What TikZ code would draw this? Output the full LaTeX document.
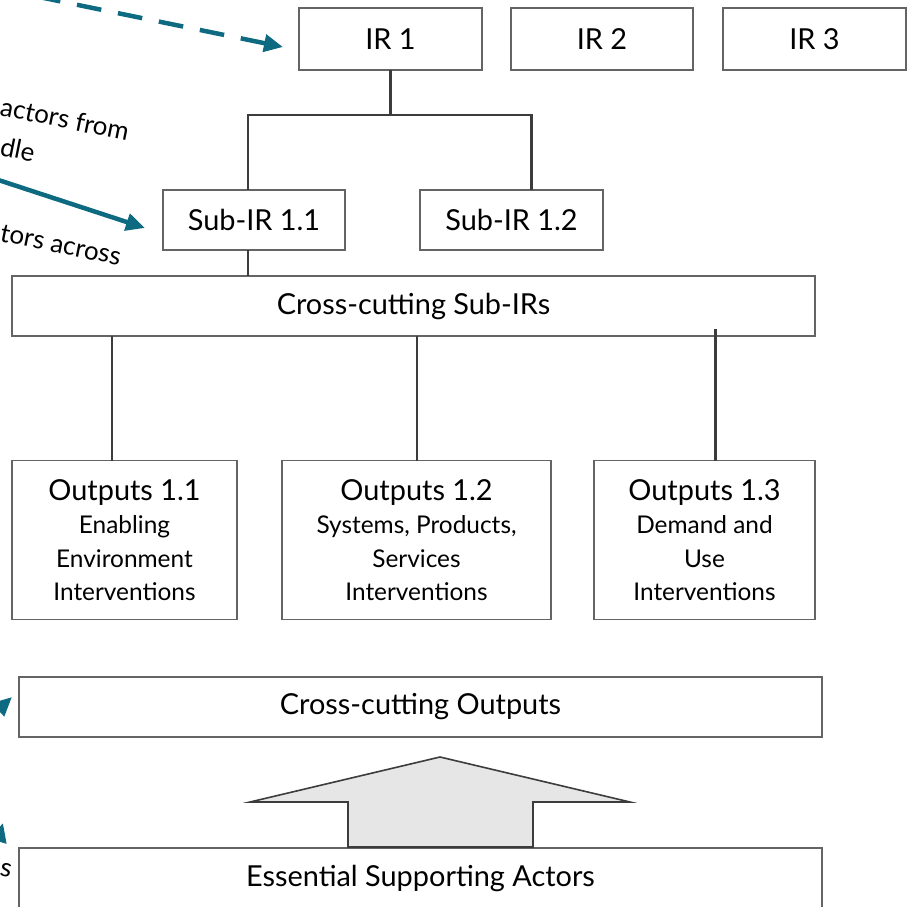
\documentclass[tikz,border=0pt]{standalone}
\usepackage{fontspec}
\setmainfont{Lato}
\usetikzlibrary{arrows.meta}
\definecolor{tealc}{RGB}{14,106,128}
\definecolor{boxline}{RGB}{100,100,100}
\definecolor{conn}{RGB}{60,60,60}
\definecolor{arrfill}{RGB}{230,230,230}
\tikzset{
  box/.style={draw=boxline, line width=1.9bp, rectangle, inner sep=0pt, outer sep=0pt, align=center, font=\fontsize{29}{33}\selectfont},
  outbox/.style={box, font=\fontsize{24.5}{33.5}\selectfont},
  connector/.style={draw=conn, line width=2.2bp},
  tealarrow/.style={draw=tealc, line width=4.5bp, -{Triangle[length=19bp,width=17bp]}},
  sidetext/.style={font=\fontsize{26}{28}\selectfont, rotate=-11.5, anchor=base west, inner sep=0pt}
}
\newcommand{\outtitle}[1]{{\fontsize{29}{33.5}\selectfont #1}}
\begin{document}
\begin{tikzpicture}[x=1bp,y=-1bp]
\useasboundingbox (0,0) rectangle (909,907);
\clip (0,0) rectangle (909,907);

% top level
\node[box, minimum width=183bp, minimum height=62bp] (ir1) at (390.5,39) {IR 1};
\node[box, minimum width=182bp, minimum height=62bp] (ir2) at (602,39) {IR 2};
\node[box, minimum width=183bp, minimum height=62bp] (ir3) at (814.5,39) {IR 3};

% sub IRs
\node[box, minimum width=182bp, minimum height=60bp] (sub1) at (254,220) {Sub-IR 1.1};
\node[box, minimum width=183bp, minimum height=60bp] (sub2) at (511.5,220) {Sub-IR 1.2};

\node[box, minimum width=803bp, minimum height=60bp] (ccsub) at (413.5,306) {Cross-cutting Sub-IRs};

% outputs
\node[outbox, minimum width=225bp, minimum height=159bp] (out1) at (124.5,540) {\outtitle{Outputs 1.1}\\Enabling\\Environment\\Interventions};
\node[outbox, minimum width=269bp, minimum height=159bp] (out2) at (416.5,540) {\outtitle{Outputs 1.2}\\Systems, Products,\\Services\\Interventions};
\node[outbox, minimum width=221bp, minimum height=159bp] (out3) at (704.5,540) {\outtitle{Outputs 1.3}\\Demand and\\Use\\Interventions};

\node[box, minimum width=803bp, minimum height=60bp] (ccout) at (420.5,707) {Cross-cutting Outputs};
\node[box, minimum width=803bp, minimum height=60bp] (esa) at (420.5,878) {Essential Supporting Actors};

% connectors
\coordinate (j) at (390.5,115);
\draw[connector] (ir1.south) -- (j);
\draw[connector] ([xshift=-6bp]sub1.north) |- (j) -| ([xshift=20bp]sub2.north);
\draw[connector] ([xshift=-6bp]sub1.south) -- ([xshift=-6bp]sub1.south |- ccsub.north);
\draw[connector] (out1.north -| 112,0) -- (ccsub.south -| 112,0);
\draw[connector] (out2.north -| 417,0) -- (ccsub.south -| 417,0);
\draw[connector] (out3.north -| 715.5,0) -- ([yshift=7bp]ccsub.south -| 715.5,0);

% block arrow
\draw[draw=conn, fill=arrfill, line width=1.6bp, line join=miter]
  (348,847) -- (348,802) -- (250,802) -- (440,757) -- (630,802) -- (533,802) -- (533,847) -- cycle;

% teal arrows from outside
\coordinate (dstart) at (-40,-19.2);
\draw[tealarrow, dash pattern=on 24.8bp off 17bp, dash phase=6bp] (dstart) -- ([xshift=-16bp,yshift=-8bp]ir1.west);
\coordinate (sstart) at (-20,174);
\draw[tealarrow] (sstart) -- ([xshift=-18bp,yshift=-8bp]sub1.west);
\coordinate (a1start) at (-40,745);
\coordinate (a1end) at (12,697);
\draw[tealarrow] (a1start) -- (a1end);
\coordinate (a2start) at (-12,875);
\coordinate (a2end) at (3,823);
\draw[tealarrow] (a2start) -- (a2end);

% clipped side texts (fragments as shown)
\node[sidetext] (t1) at (-1,115) {actors from};
\node[sidetext] (t2) at (-1,155) {dle};
\node[sidetext] (t3) at (-1,241) {tors across};
\node[sidetext] (t4) at (-1,875) {s};
\end{tikzpicture}
\end{document}
